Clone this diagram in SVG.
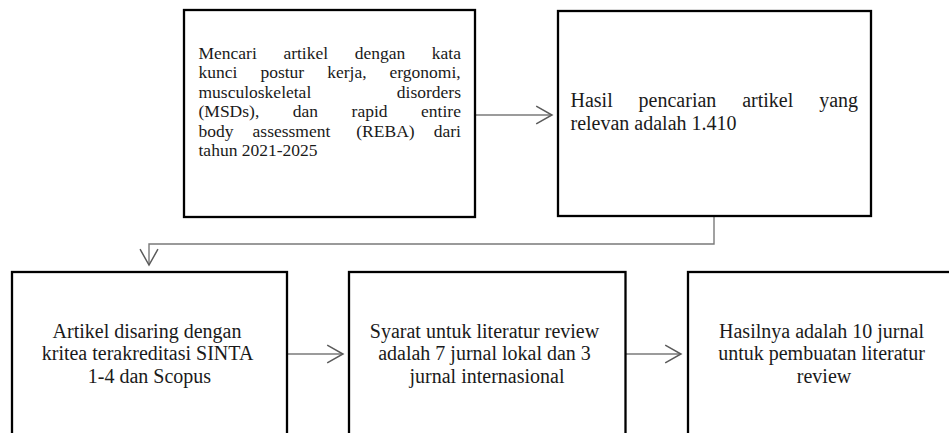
<svg xmlns="http://www.w3.org/2000/svg" width="949" height="433" viewBox="0 0 949 433">
  <style>
    .box { fill: #ffffff; stroke: #000000; stroke-width: 2.3; }
    .t1 { font-family: "Liberation Serif", "Times New Roman", serif; font-size: 17.5px; fill: #1a1a1a; }
    .t2 { font-family: "Liberation Serif", "Times New Roman", serif; font-size: 20px; fill: #1a1a1a; }
    .c { text-anchor: middle; }
    .conn { fill: none; stroke: #7a7a7a; stroke-width: 1.4; }
  </style>
  <defs>
    <marker id="arr" markerUnits="userSpaceOnUse" markerWidth="20" markerHeight="22" viewBox="-17 -10 19 20" refX="0" refY="0" orient="auto">
      <path d="M-15,-8.5 L0,0 L-15,8.5" fill="none" stroke="#5a5a5a" stroke-width="1.4"/>
    </marker>
  </defs>
  <rect width="949" height="433" fill="#ffffff"/>

  <g id="connectors">
    <path class="conn" d="M475,115 H552" marker-end="url(#arr)"/>
    <path class="conn" d="M714,217 V244 H149 V265" marker-end="url(#arr)"/>
    <path class="conn" d="M287,354 H343" marker-end="url(#arr)"/>
    <path class="conn" d="M625.5,354 H681" marker-end="url(#arr)"/>
  </g>

  <g id="node1">
    <rect class="box" x="184" y="10" width="291" height="207"/>
    <text class="t1">
      <tspan x="198.5" y="58.5">Mencari</tspan><tspan x="283.4">artikel</tspan><tspan x="354.7">dengan</tspan><tspan x="431.8">kata</tspan>
      <tspan x="198.5" y="78">kunci</tspan><tspan x="260.4">postur</tspan><tspan x="327.2">kerja,</tspan><tspan x="389.6">ergonomi,</tspan>
      <tspan x="198.5" y="97.5">musculoskeletal</tspan><tspan x="396.8">disorders</tspan>
      <tspan x="198.5" y="117">(MSDs),</tspan><tspan x="292.8">dan</tspan><tspan x="351.6">rapid</tspan><tspan x="421.1">entire</tspan>
      <tspan x="198.5" y="136.5">body</tspan><tspan x="252.6">assessment</tspan><tspan x="356.3">(REBA)</tspan><tspan x="433.7">dari</tspan>
      <tspan x="198.5" y="156">tahun 2021-2025</tspan>
    </text>
  </g>

  <g id="node2">
    <rect class="box" x="558" y="11" width="313" height="205"/>
    <text class="t2">
      <tspan x="570.5" y="107">Hasil</tspan><tspan x="638.6">pencarian</tspan><tspan x="742.2">artikel</tspan><tspan x="819.2">yang</tspan>
      <tspan x="570.5" y="129.5">relevan adalah 1.410</tspan>
    </text>
  </g>

  <g id="node3">
    <rect class="box" x="12" y="272" width="275" height="175"/>
    <text class="t2 c">
      <tspan x="149.5" y="337.5">Artikel disaring dengan</tspan>
      <tspan x="149.5" y="360">kritea terakreditasi  SINTA</tspan>
      <tspan x="149.5" y="382.5">1-4 dan Scopus</tspan>
    </text>
  </g>

  <g id="node4">
    <rect class="box" x="349" y="272" width="276.5" height="175"/>
    <text class="t2 c">
      <tspan x="487" y="337.5">Syarat untuk literatur review</tspan>
      <tspan x="487" y="360">adalah 7 jurnal lokal dan 3</tspan>
      <tspan x="487" y="382.5">jurnal internasional</tspan>
    </text>
  </g>

  <g id="node5">
    <rect class="box" x="688" y="272" width="272" height="175"/>
    <text class="t2 c">
      <tspan x="824" y="337.5">Hasilnya adalah 10 jurnal</tspan>
      <tspan x="824" y="360">untuk pembuatan literatur</tspan>
      <tspan x="824" y="382.5">review</tspan>
    </text>
  </g>
</svg>
